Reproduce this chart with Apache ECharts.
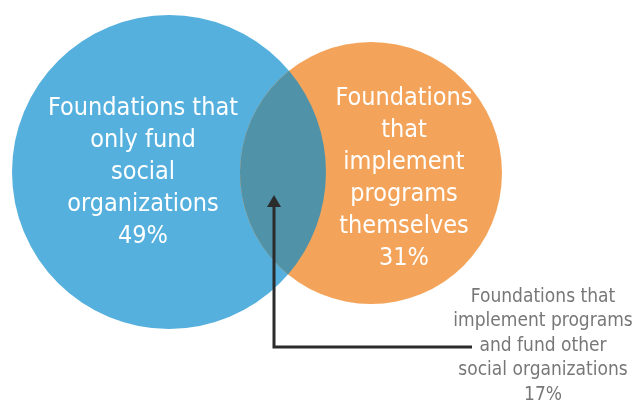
<!DOCTYPE html>
<html>
<head>
<meta charset="utf-8">
<script src="https://cdn.jsdelivr.net/npm/echarts@6/dist/echarts.min.js"></script>
<style>
  html, body { margin: 0; padding: 0; background: #fff; }
  #chart { width: 635px; height: 401px; }
</style>
</head>
<body>
<div id="chart"></div>
<script>
// set labels and shares
var setNames = [
  'Foundations that\nonly fund\nsocial\norganizations',
  'Foundations\nthat\nimplement\nprograms\nthemselves',
  'Foundations that\nimplement programs\nand fund other\nsocial organizations'
];
var setValues = [49, 31, 17];

// venn layout (plot units)
var circleX = [169, 371];
var circleY = [172, 173];
var circleR = [157, 131];
var labelX = [143, 404, 543];
var labelY = [172, 178, 346];
var arrowPath = [[274, 347], [472, 347], [274, 195]]; // corner, tail end, tip

var colors = ['#55b0de', '#f4a45a', '#5093a9'];
var font = '"Liberation Sans Narrow", "DejaVu Sans Condensed", Lato, sans-serif';

var myChart = echarts.init(document.getElementById('chart'));

var circleData = circleX.map(function (x, i) { return [x, circleY[i], circleR[i]]; });
var labelData = labelX.map(function (x, i) { return [x, labelY[i], i]; });

var options = {
  backgroundColor: '#fff',
  animation: false,
  grid: { left: 0, right: 0, top: 0, bottom: 0 },
  xAxis: { type: 'value', min: 0, max: 635, show: false },
  yAxis: { type: 'value', min: 0, max: 401, inverse: true, show: false },
  series: [
    {
      type: 'custom',
      silent: true,
      data: circleData,
      renderItem: function (params, api) {
        var c = api.coord([api.value(0), api.value(1)]);
        var r = api.size([api.value(2), 0])[0];
        return { type: 'circle', shape: { cx: c[0], cy: c[1], r: r }, style: { fill: colors[params.dataIndex] } };
      }
    },
    {
      // overlap lens
      type: 'custom',
      silent: true,
      data: [[0]],
      renderItem: function (params, api) {
        var a = api.coord([circleX[0], circleY[0]]);
        var b = api.coord([circleX[1], circleY[1]]);
        var r1 = api.size([circleR[0], 0])[0];
        var r2 = api.size([circleR[1], 0])[0];
        var dx = b[0] - a[0], dy = b[1] - a[1];
        var d = Math.sqrt(dx * dx + dy * dy);
        var l = (d * d + r1 * r1 - r2 * r2) / (2 * d);
        var h = Math.sqrt(r1 * r1 - l * l);
        var mx = a[0] + l * dx / d, my = a[1] + l * dy / d;
        var p1 = [mx + h * dy / d, my - h * dx / d];
        var p2 = [mx - h * dy / d, my + h * dx / d];
        var top = p1[1] < p2[1] ? p1 : p2;
        var bot = p1[1] < p2[1] ? p2 : p1;
        var path = 'M' + top[0] + ' ' + top[1] +
          ' A' + r2 + ' ' + r2 + ' 0 0 0 ' + bot[0] + ' ' + bot[1] +
          ' A' + r1 + ' ' + r1 + ' 0 0 0 ' + top[0] + ' ' + top[1] + ' Z';
        return { type: 'path', shape: { pathData: path }, style: { fill: colors[2] } };
      }
    },
    {
      // arrow to the overlap
      type: 'custom',
      silent: true,
      data: [[0]],
      renderItem: function (params, api) {
        var corner = api.coord(arrowPath[0]);
        var tail = api.coord(arrowPath[1]);
        var tip = api.coord(arrowPath[2]);
        return {
          type: 'group',
          children: [
            { type: 'polyline', shape: { points: [tail, corner, [tip[0], tip[1] + 10]] },
              style: { stroke: '#2b2b2b', lineWidth: 3, fill: null } },
            { type: 'polygon', shape: { points: [tip, [tip[0] - 7, tip[1] + 12], [tip[0] + 7, tip[1] + 12]] },
              style: { fill: '#2b2b2b' } }
          ]
        };
      }
    },
    {
      type: 'custom',
      silent: true,
      data: labelData,
      renderItem: function (params, api) {
        var i = api.value(2);
        var p = api.coord([api.value(0), api.value(1)]);
        var inside = i < 2;
        return {
          type: 'text',
          x: p[0], y: p[1],
          style: {
            text: setNames[i] + '\n' + setValues[i] + '%',
            fill: inside ? '#ffffff' : '#777777',
            fontFamily: font,
            fontSize: inside ? 25 : 19,
            lineHeight: inside ? 32 : 24.5,
            align: 'center',
            verticalAlign: 'middle'
          }
        };
      }
    }
  ]
};

myChart.setOption(options);
</script>
</body>
</html>
